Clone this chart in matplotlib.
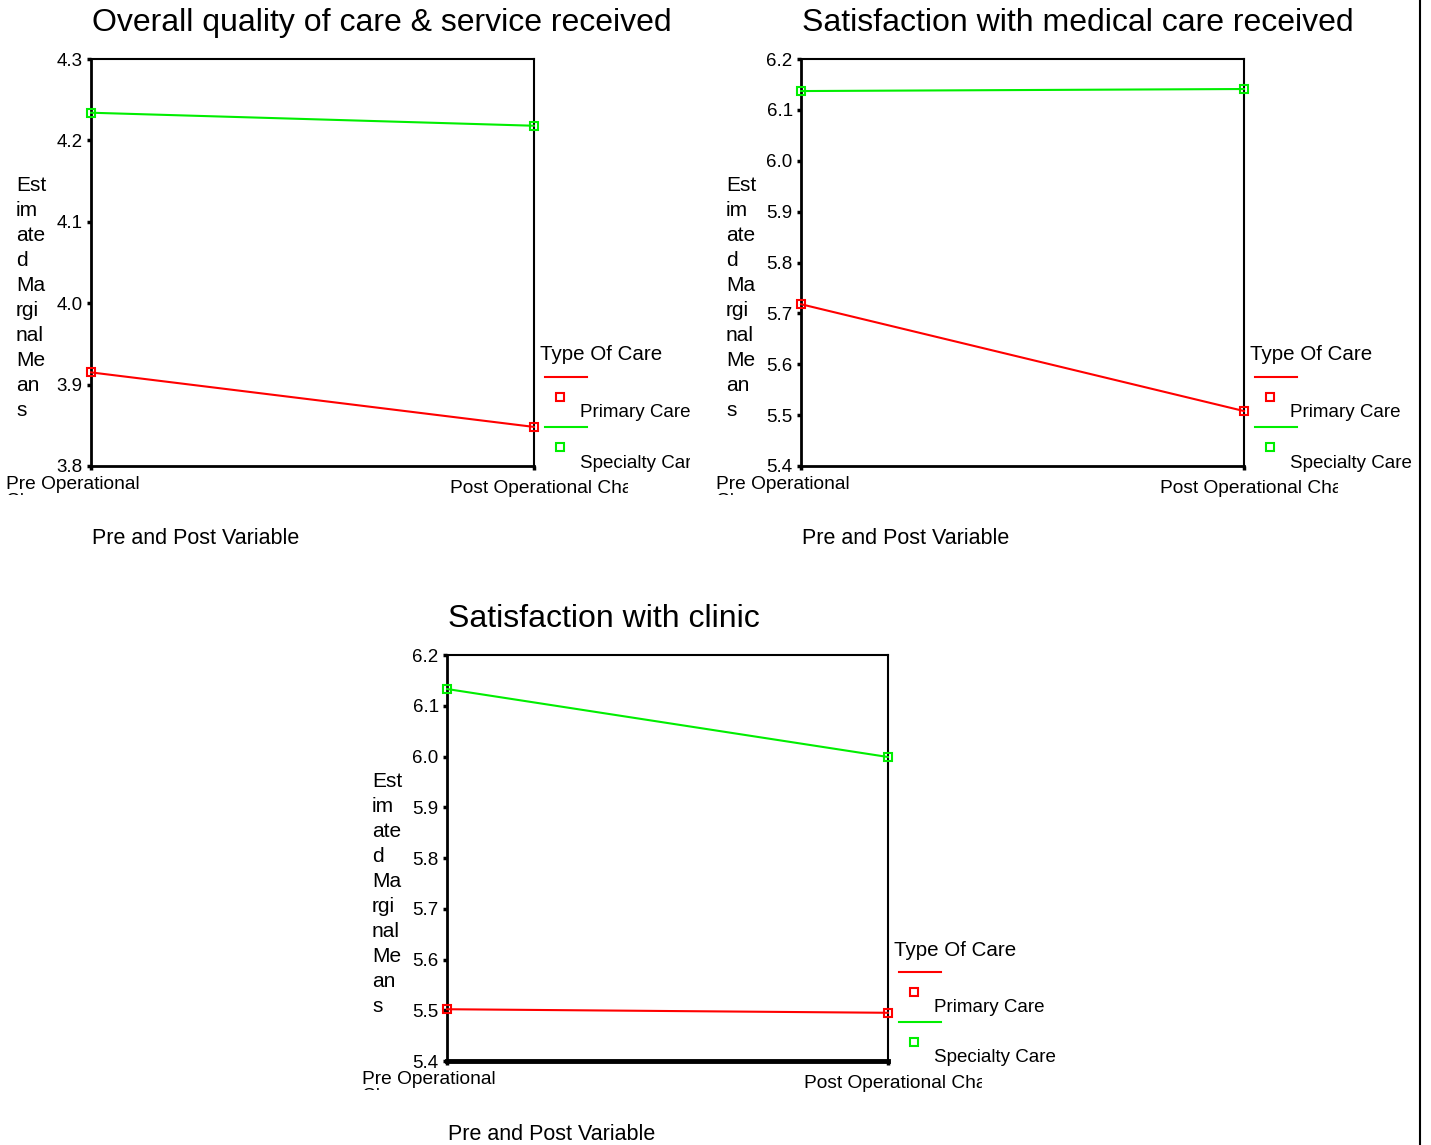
import matplotlib
matplotlib.use('Agg')
import matplotlib.pyplot as plt
from matplotlib.lines import Line2D
from matplotlib.transforms import Bbox

# data
periods = ['Pre Operational\nChange', 'Post Operational Change']
groups = ['Primary Care', 'Specialty Care']
group_colors = ['#ff0000', '#00ee00']

titles = ['Overall quality of care & service received',
          'Satisfaction with medical care received',
          'Satisfaction with clinic']
primary_means = [[3.915, 3.848], [5.718, 5.508], [5.502, 5.495]]
specialty_means = [[4.234, 4.218], [6.137, 6.141], [6.133, 5.999]]
y_ranges = [(3.8, 4.3), (5.4, 6.2), (5.4, 6.2)]
y_ticks = [[3.8, 3.9, 4.0, 4.1, 4.2, 4.3],
           [5.4, 5.5, 5.6, 5.7, 5.8, 5.9, 6.0, 6.1, 6.2],
           [5.4, 5.5, 5.6, 5.7, 5.8, 5.9, 6.0, 6.1, 6.2]]

# pixel boxes of the plot areas (left, top, right, bottom)
boxes = [(91, 59, 534, 466), (801, 59, 1244, 466), (447, 655, 888, 1061)]

W, H = 1431, 1145
plt.rcParams['font.family'] = ['Liberation Sans', 'DejaVu Sans']
fig = plt.figure(figsize=(W / 100, H / 100), dpi=100)


def fx(x):
    return x / W


def fy(y):
    return 1 - y / H


def clip(x0, y0, x1, y1):
    return Bbox([[x0, H - y1], [x1, H - y0]])


def clipped(t, box):
    t.set_clip_box(box)
    t.set_clip_on(True)
    return t


def draw_panel(i):
    l, t, r, b = boxes[i]
    ax = fig.add_axes([fx(l), fy(b), (r - l) / W, (b - t) / H])
    series = [primary_means[i], specialty_means[i]]
    for vals, c in zip(series, group_colors):
        ax.plot([0, 1], vals, color=c, lw=1.5, marker='s', ms=5.5,
                mfc='none', mec=c, mew=1.5, clip_on=False, zorder=3)
    ax.set_xlim(0, 1)
    ax.set_ylim(*y_ranges[i])
    ax.set_yticks(y_ticks[i])
    ax.set_yticklabels(['%.1f' % v for v in y_ticks[i]], fontsize=13.5)
    ax.set_xticks([0, 1])
    ax.set_xticklabels([])
    ax.tick_params(length=3, width=2.5, pad=3, color='black')
    for s in ['left', 'bottom']:
        ax.spines[s].set_linewidth(2)
    for s in ['top', 'right']:
        ax.spines[s].set_linewidth(1.5)
    if i == 2:
        ax.spines['bottom'].set_linewidth(3.5)

    # title
    fig.text(fx(l + 1), fy(t - 36), titles[i], fontsize=23,
             ha='left', va='center')
    # wrapped y label, as in the original output
    fig.text(fx(l - 75), fy(t + 239), 'Est\nim\nate\nd\nMa\nrgi\nnal\nMe\nan\ns',
             fontsize=15, ha='left', va='center', linespacing=1.4)
    # x tick labels, clipped
    clipped(fig.text(fx(l - 85), fy(b + 10), periods[0], fontsize=13.8,
                     ha='left', va='top', linespacing=1.0),
            clip(l - 90, b, l + 80, b + 29))
    clipped(fig.text(fx(r - 84), fy(b + 14), periods[1], fontsize=13.8,
                     ha='left', va='top'),
            clip(r - 90, b, r + 94, b + 34))
    # x axis title
    fig.text(fx(l + 1), fy(b + 73), 'Pre and Post Variable', fontsize=15.5,
             ha='left', va='center')

    # legend
    lx, ly = r + 6, b - 114
    fig.text(fx(lx), fy(ly + 3), 'Type Of Care', fontsize=14.8, ha='left', va='center')
    for k, (g, c) in enumerate(zip(groups, group_colors)):
        oy = ly + k * 50
        fig.add_artist(Line2D([fx(lx + 5), fx(lx + 47)], [fy(oy + 25), fy(oy + 25)],
                              color=c, lw=1.5))
        fig.add_artist(Line2D([fx(lx + 20)], [fy(oy + 45)], marker='s', ms=5.5,
                              mfc='none', mec=c, mew=1.5, ls='none'))
        tx = fig.text(fx(lx + 40), fy(oy + 61), g, fontsize=13.5, ha='left', va='center')
        if i == 0:
            clipped(tx, clip(lx + 30, oy + 40, lx + 150, oy + 75))


for i in range(3):
    draw_panel(i)

# page border on the right
fig.add_artist(Line2D([fx(1420), fx(1420)], [0, 1], color='black', lw=1.5))

fig.savefig('out.png', dpi=100)
